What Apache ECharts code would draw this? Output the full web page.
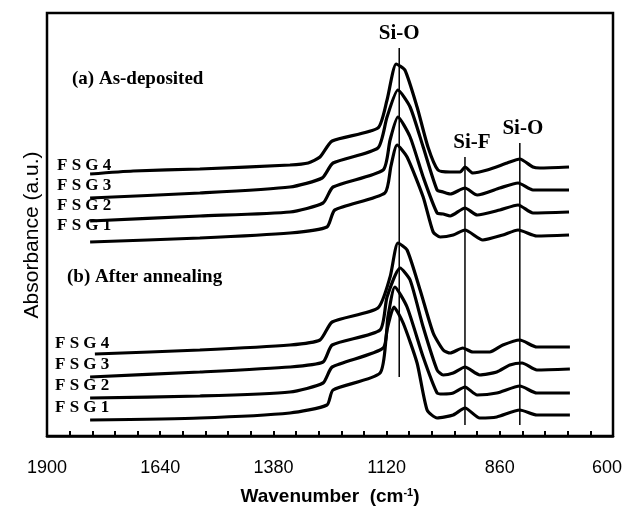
<!DOCTYPE html>
<html>
<head>
<meta charset="utf-8">
<script src="https://cdn.jsdelivr.net/npm/echarts@6/dist/echarts.min.js"></script>
<style>
  html, body { margin: 0; padding: 0; background: #fff; }
  #chart { width: 626px; height: 512px; }
</style>
</head>
<body>
<div id="chart"></div>
<script>
// wavenumber (cm-1), absorbance (a.u., curves stacked with offsets)
const asDep4 = [[1801,2.62],[1702,2.65],[1549,2.67],[1342,2.71],[1300,2.73],[1273,2.79],[1245,2.95],[1140,3.08],[1119,3.36],[1098,3.72],[1078,3.66],[1050,3.29],[1025,2.89],[1002,2.66],[974,2.64],[951,2.64],[940,2.69],[922,2.63],[889,2.66],[843,2.73],[814,2.77],[784,2.69],[768,2.68],[701,2.69]];
const asDep3 = [[1801,2.38],[1549,2.43],[1342,2.49],[1268,2.58],[1243,2.73],[1140,2.88],[1119,3.19],[1094,3.46],[1066,3.29],[1036,2.89],[1004,2.46],[990,2.44],[974,2.42],[940,2.48],[912,2.41],[860,2.48],[818,2.53],[784,2.46],[701,2.46]];
const asDep2 = [[1801,2.15],[1549,2.20],[1342,2.24],[1266,2.33],[1243,2.49],[1128,2.66],[1112,2.96],[1094,3.19],[1066,2.99],[1036,2.59],[1004,2.23],[990,2.22],[974,2.20],[940,2.28],[912,2.21],[860,2.26],[818,2.31],[784,2.23],[701,2.24]];
const asDep1 = [[1801,1.94],[1549,1.98],[1342,2.03],[1257,2.09],[1239,2.26],[1124,2.43],[1110,2.70],[1096,2.91],[1073,2.79],[1036,2.39],[1013,2.04],[997,1.99],[967,2.01],[940,2.06],[899,1.96],[853,2.01],[818,2.06],[775,2.00],[701,2.01]];

const anneal4 = [[1790,0.82],[1549,0.86],[1342,0.91],[1273,0.96],[1245,1.14],[1140,1.28],[1112,1.59],[1094,1.93],[1073,1.86],[1043,1.46],[1013,1.03],[990,0.86],[974,0.83],[945,0.88],[922,0.84],[883,0.84],[853,0.91],[814,0.96],[775,0.89],[699,0.89]];
const anneal3 = [[1801,0.59],[1549,0.64],[1342,0.69],[1266,0.74],[1245,0.91],[1135,1.06],[1119,1.39],[1089,1.68],[1066,1.56],[1036,1.09],[1004,0.66],[990,0.61],[967,0.63],[940,0.69],[906,0.61],[867,0.64],[837,0.71],[809,0.73],[775,0.66],[699,0.67]];
const anneal2 = [[1801,0.38],[1549,0.40],[1342,0.44],[1266,0.53],[1245,0.69],[1128,0.88],[1117,1.19],[1101,1.49],[1073,1.29],[1036,0.79],[1004,0.43],[990,0.42],[967,0.43],[940,0.49],[912,0.41],[867,0.43],[814,0.50],[775,0.43],[699,0.43]];
const anneal1 = [[1801,0.16],[1549,0.18],[1342,0.23],[1257,0.31],[1243,0.46],[1135,0.63],[1119,1.06],[1103,1.29],[1082,1.13],[1050,0.73],[1027,0.26],[1004,0.18],[967,0.21],[940,0.28],[906,0.18],[867,0.19],[814,0.26],[775,0.21],[699,0.21]];

const curves = [asDep4, asDep3, asDep2, asDep1, anneal4, anneal3, anneal2, anneal1];

// band marker lines
const bandNames = ['Si-O', 'Si-F', 'Si-O'];
const bandPos = [1091, 940, 814];
const bandTop = [3.88, 2.79, 2.93];
const bandBottom = [0.59, 0.11, 0.11];
const bandLabelShift = [0, 7, 3];

const xTicks = [1900, 1640, 1380, 1120, 860, 600];
const sampleNames = ['F S G 4', 'F S G 3', 'F S G 2', 'F S G 1'];

const chart = echarts.init(document.getElementById('chart'));

const serif = '"Liberation Serif", "Times New Roman", serif';
const sans = '"Liberation Sans", Arial, sans-serif';

const curveSeries = curves.map(d => ({
  type: 'line',
  data: d,
  showSymbol: false,
  symbol: 'none',
  smooth: 0.2,
  silent: true,
  lineStyle: { color: '#000', width: 3.2 }
}));

const bandSeries = bandPos.map((p, i) => ({
  type: 'line',
  data: [[p, bandBottom[i]], [p, bandTop[i]]],
  showSymbol: false,
  symbol: 'none',
  silent: true,
  lineStyle: { color: '#000', width: 1.5 }
}));

const bandLabels = {
  type: 'scatter',
  silent: true,
  symbolSize: 1,
  itemStyle: { color: 'rgba(255,255,255,0)', opacity: 1 },
  data: bandPos.map((p, i) => ({
    value: [p, bandTop[i]],
    label: {
      show: true,
      position: 'top',
      distance: 3,
      offset: [bandLabelShift[i], 0],
      formatter: bandNames[i],
      fontFamily: serif,
      fontWeight: 'bold',
      fontSize: 21,
      color: '#000',
      opacity: 1,
      textBorderWidth: 0
    }
  }))
};

const sampleY = [166, 186, 206, 226, 344, 365, 386, 408];
const sampleText = sampleY.map((y, i) => ({
  type: 'text',
  left: i < 4 ? 57 : 55,
  top: y - 9,
  style: {
    text: sampleNames[i % 4],
    font: 'bold 17px ' + serif,
    fill: '#000'
  }
}));

const option = {
  animation: false,
  grid: {
    left: 47, right: 13, top: 13, bottom: 76,
    show: true,
    borderColor: '#000',
    borderWidth: 2.5
  },
  xAxis: {
    type: 'value',
    min: 600,
    max: 1900,
    interval: 260,
    inverse: true,
    axisLine: { show: true, lineStyle: { color: '#000', width: 2.5 } },
    axisTick: { show: true, inside: true, length: 5, lineStyle: { color: '#000', width: 2 } },
    minorTick: { show: true, splitNumber: 5, length: 5, lineStyle: { color: '#000', width: 2 } },
    splitLine: { show: false },
    axisLabel: {
      margin: 23,
      fontFamily: sans,
      fontSize: 18,
      color: '#000',
      showMinLabel: true,
      showMaxLabel: true,
      formatter: v => (xTicks.indexOf(v) >= 0 ? (v === 600 ? '{r|600}' : String(v)) : ''),
      rich: { r: { fontFamily: sans, fontSize: 18, color: '#000', padding: [0, 12, 0, 0] } }
    }
  },
  yAxis: {
    type: 'value',
    min: 0,
    max: 4.23,
    show: false
  },
  graphic: [
    {
      type: 'text',
      left: 72,
      top: 70,
      style: { text: '(a) As-deposited', font: 'bold 19px ' + serif, fill: '#000' }
    },
    {
      type: 'text',
      left: 67,
      top: 268,
      style: { text: '(b) After annealing', font: 'bold 19px ' + serif, fill: '#000' }
    },
    {
      type: 'text',
      x: 32,
      y: 235,
      rotation: Math.PI / 2,
      style: {
        text: 'Absorbance (a.u.)',
        font: '21px ' + sans,
        fill: '#000',
        align: 'center',
        verticalAlign: 'middle'
      }
    },
    {
      type: 'text',
      x: 330,
      y: 497,
      style: {
        text: '{a|Wavenumber  (cm}{s|-1}{a|)}',
        align: 'center',
        verticalAlign: 'middle',
        rich: {
          a: { fontFamily: sans, fontWeight: 'bold', fontSize: 19, fill: '#000' },
          s: { fontFamily: sans, fontWeight: 'bold', fontSize: 11, fill: '#000', verticalAlign: 'top', padding: [0, 0, 8, 0] }
        }
      }
    },
    ...sampleText
  ],
  series: [...curveSeries, ...bandSeries, bandLabels]
};

chart.setOption(option);
</script>
</body>
</html>
